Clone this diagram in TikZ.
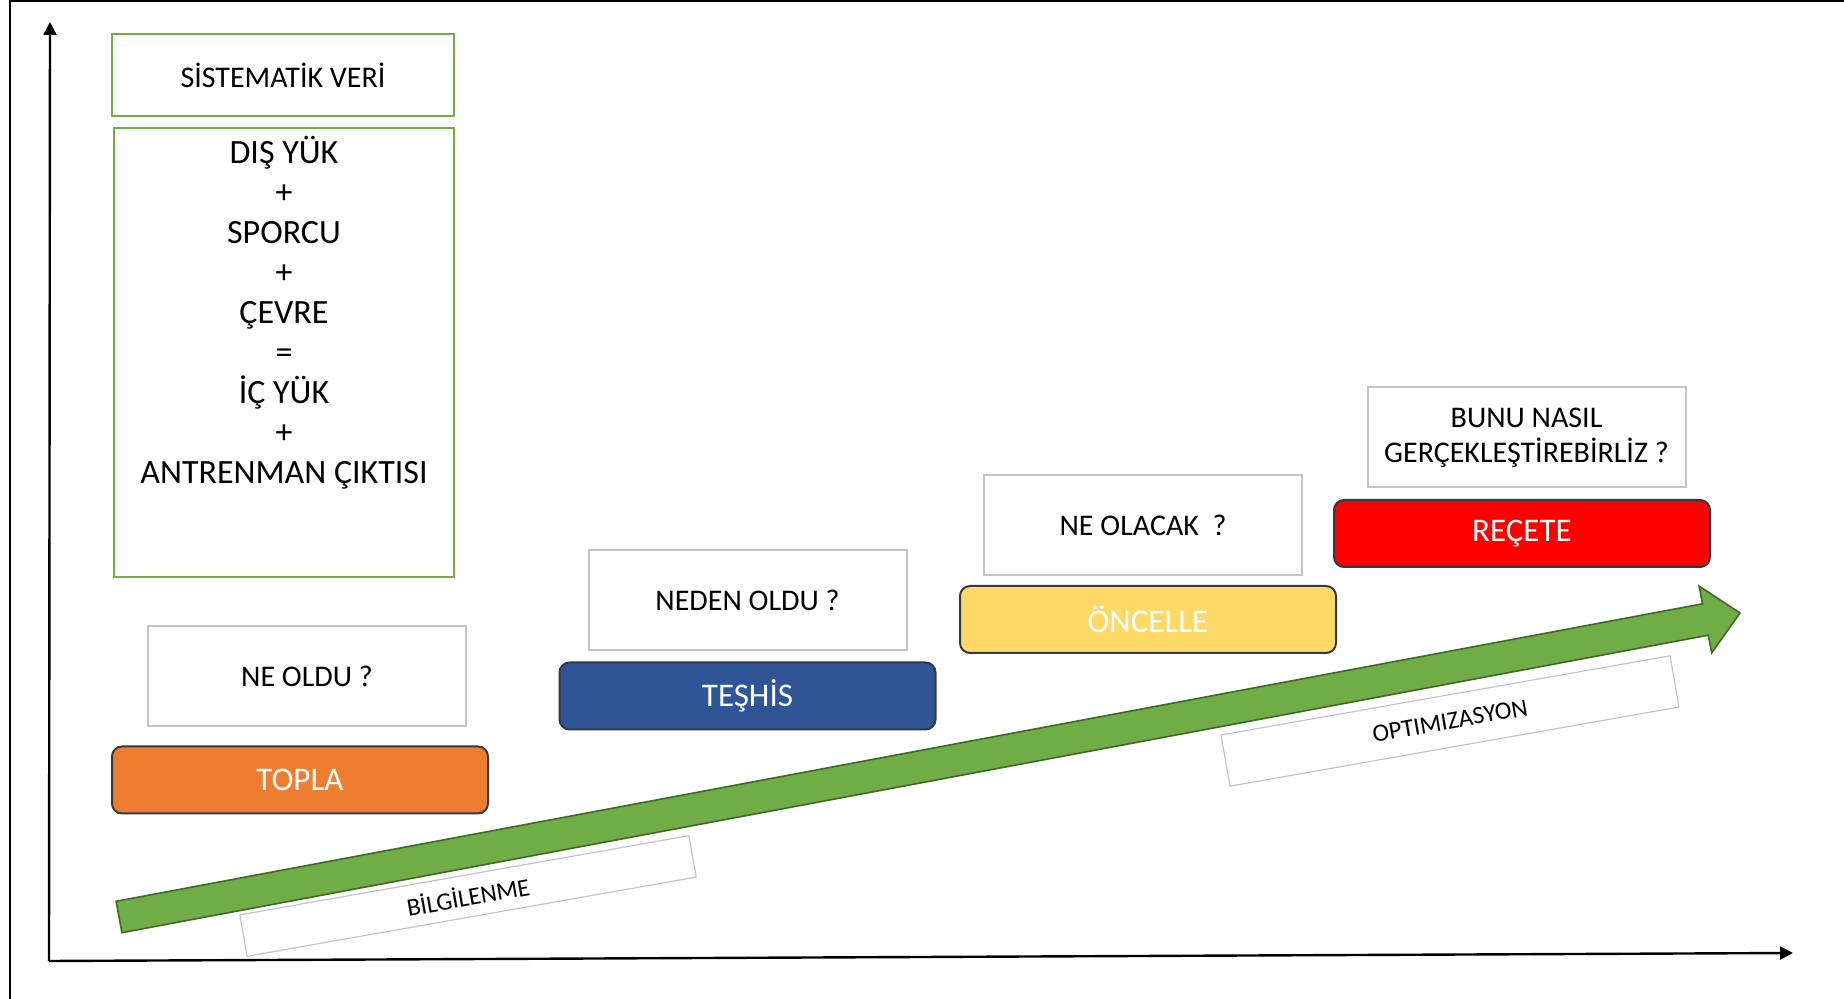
\documentclass[tikz,border=0pt]{standalone}
\usepackage{fontspec}
\setmainfont{Carlito}
\usetikzlibrary{positioning}
\usetikzlibrary{arrows.meta}
\definecolor{turuncu}{HTML}{ED7D31}
\definecolor{mavi}{HTML}{2F5597}
\definecolor{sari}{HTML}{FFD966}
\definecolor{kirmizi}{HTML}{FF0000}
\definecolor{yesil}{HTML}{70AD47}
\definecolor{koyuyesil}{HTML}{3F6A26}
\definecolor{cizgi}{HTML}{2E3A4B}
\definecolor{gri}{HTML}{C4C4C4}
\tikzset{
  sorukutu/.style={draw=gri, line width=1pt, fill=white, minimum width=159pt, minimum height=50pt,
    align=center, font=\fontsize{15}{17.5}\selectfont},
  adimkutu/.style={draw=cizgi, line width=1pt, rounded corners=5pt, minimum width=188pt,
    minimum height=33.5pt, text=white, font=\fontsize{16.5}{19}\selectfont},
  yesilkutu/.style={draw=yesil, line width=1pt},
  egikkutu/.style={draw=gri, line width=0.6pt, fill=white, rotate=10, minimum width=228pt,
    font=\fontsize{12.5}{15}\selectfont},
  eksen/.style={line width=1.2pt, -{Triangle[length=6.5pt,width=6.5pt]}}
}

\begin{document}
\begin{tikzpicture}[x=0.5pt, y=-0.5pt]
        \useasboundingbox (0,0) rectangle (1844,999);

        % Çerçeve
        \draw[line width=1pt] (10,999) -- (10,1) -- (1844,1);

        % Eksenler
        \coordinate (o) at (49,961);
        \coordinate (ytepe) at (50,22);
        \coordinate (xuc) at (1793,953);
        \draw[eksen] (o) -- (ytepe);
        \draw[eksen] (o) -- (xuc);

        % Sistematik veri
        \node[yesilkutu, minimum width=171pt, minimum height=41pt, font=\fontsize{15}{18}\selectfont]
            (sistematik) at (283,75) {SİSTEMATİK VERİ};
        \node[yesilkutu, minimum width=170pt, minimum height=224.5pt] (yukkutu) at (284,352.5) {};
        \node[align=center, font=\fontsize{17}{20}\selectfont] (yukyazi) at (284,313)
            {DIŞ YÜK\\+\\SPORCU\\+\\ÇEVRE\\=\\İÇ YÜK\\+\\ANTRENMAN ÇIKTISI};

        % Sorular
        \foreach \x/\y/\ad/\yazi in {307/676.5/neoldu/{NE OLDU ?}, 747.5/600/neden/{NEDEN OLDU ?},
            1143/525/neolacak/{NE OLACAK\ \ ?}, 1526.5/437.5/nasil/{BUNU NASIL\\GERÇEKLEŞTİREBİRLİZ ?}}
        {
        \node[sorukutu] (\ad) at (\x,\y) {\yazi};
        }

        % Adımlar
        \foreach \x/\y/\ad/\renk/\yazi in {300/780/topla/turuncu/TOPLA, 747.5/696/teshis/mavi/TEŞHİS,
            1148/619.5/oncelle/sari/ÖNCELLE, 1522/533.5/recete/kirmizi/REÇETE}
        {
        \node[adimkutu, fill=\renk] (\ad) at (\x,\y) {\yazi};
        }

        % Eğik etiketler
        \node[egikkutu, minimum height=21pt] (bilgilenme) at (468,896) {BİLGİLENME};
        \node[egikkutu, minimum height=26pt] (optimizasyon) at (1450,721) {OPTIMIZASYON};

        % Yeşil ok
        \draw[fill=yesil, draw=koyuyesil, line width=0.8pt, line join=miter]
            (116.1,901.3) -- (1702.5,603.8) -- (1699.1,586.1) -- (1740,613)
            -- (1711.7,652.9) -- (1708.3,635.2) -- (121.9,932.7) -- cycle;
    \end{tikzpicture}
\end{document}
